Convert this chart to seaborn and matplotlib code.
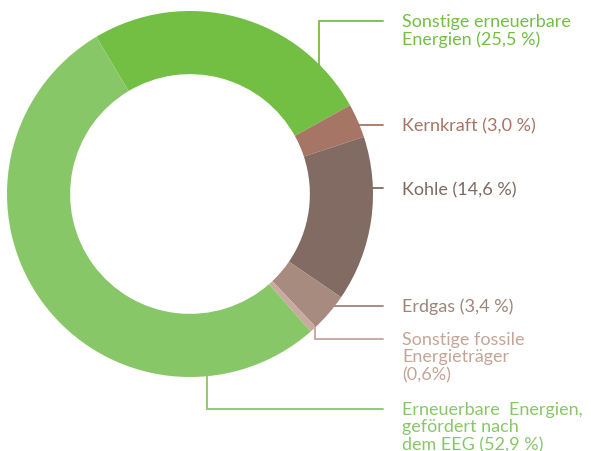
import numpy as np
import matplotlib
matplotlib.use("Agg")
import matplotlib.pyplot as plt
import seaborn as sns

# ---- data ----
categories = [
    "Sonstige erneuerbare\nEnergien (25,5 %)",
    "Kernkraft (3,0 %)",
    "Kohle (14,6 %)",
    "Erdgas (3,4 %)",
    "Sonstige fossile\nEnergieträger\n(0,6%)",
    "Erneuerbare  Energien,\ngefördert nach\ndem EEG (52,9 %)",
]
shares = [25.5, 3.0, 14.6, 3.4, 0.6, 52.9]
wedge_colors = ["#72bf44", "#a77565", "#826b62", "#a68b7e", "#c9aa9e", "#88c767"]
text_colors = ["#72bf44", "#a77565", "#7f6a62", "#9e8579", "#c4a598", "#88c767"]

sns.set_theme(style="white")
plt.rcParams["font.family"] = ["Lato", "DejaVu Sans"]

W, H = 591, 452
fig = plt.figure(figsize=(W / 100, H / 100), dpi=100)
ax = fig.add_axes([0, 0, 1, 1])

cx, cy, R = 190, H - 195, 183
ax.pie(shares, colors=wedge_colors, startangle=120.8, counterclock=False,
       center=(cx, cy), radius=R, frame=True,
       wedgeprops=dict(width=R * 0.345, linewidth=0))
ax.set_xlim(0, W)
ax.set_ylim(0, H)
ax.set_aspect("equal")
ax.axis("off")

# ---- leader lines & labels (layout in pixel coords, y from top) ----
xe, xt = 383, 402

def circ_x(ypx):
    dy = (H - ypx) - cy
    return cx + np.sqrt(R ** 2 - dy ** 2)

def circ_y(xpx):
    dx = xpx - cx
    return np.sqrt(R ** 2 - dx ** 2)

lw = 1.3
i = 0
x0 = 319
ax.plot([x0, x0, xe], [cy + circ_y(x0) - 3, H - 22, H - 22], color=text_colors[i], lw=lw, zorder=0,
        solid_joinstyle="miter")
for i, yp in [(1, 126), (2, 189), (3, 307)]:
    ax.plot([circ_x(yp) - 3, xe], [H - yp, H - yp], color=text_colors[i], lw=lw, zorder=0)
i = 4
x0 = 315
ax.plot([x0, x0, xe], [cy - circ_y(x0) + 3, H - 340, H - 340], color=text_colors[i], lw=lw, zorder=0,
        solid_joinstyle="miter")
i = 5
x0 = 207
ax.plot([x0, x0, xe], [cy - circ_y(x0) + 3, H - 410, H - 410], color=text_colors[i], lw=lw, zorder=0,
        solid_joinstyle="miter")

label_y = [22, 126, 190, 307, 340, 410]
line_step = 17.5
for lab, col, yp in zip(categories, text_colors, label_y):
    for k, line in enumerate(lab.split("\n")):
        ax.text(xt, H - (yp + k * line_step), line, color=col, fontsize=13,
                ha="left", va="center")

fig.savefig("out.png", dpi=100)
